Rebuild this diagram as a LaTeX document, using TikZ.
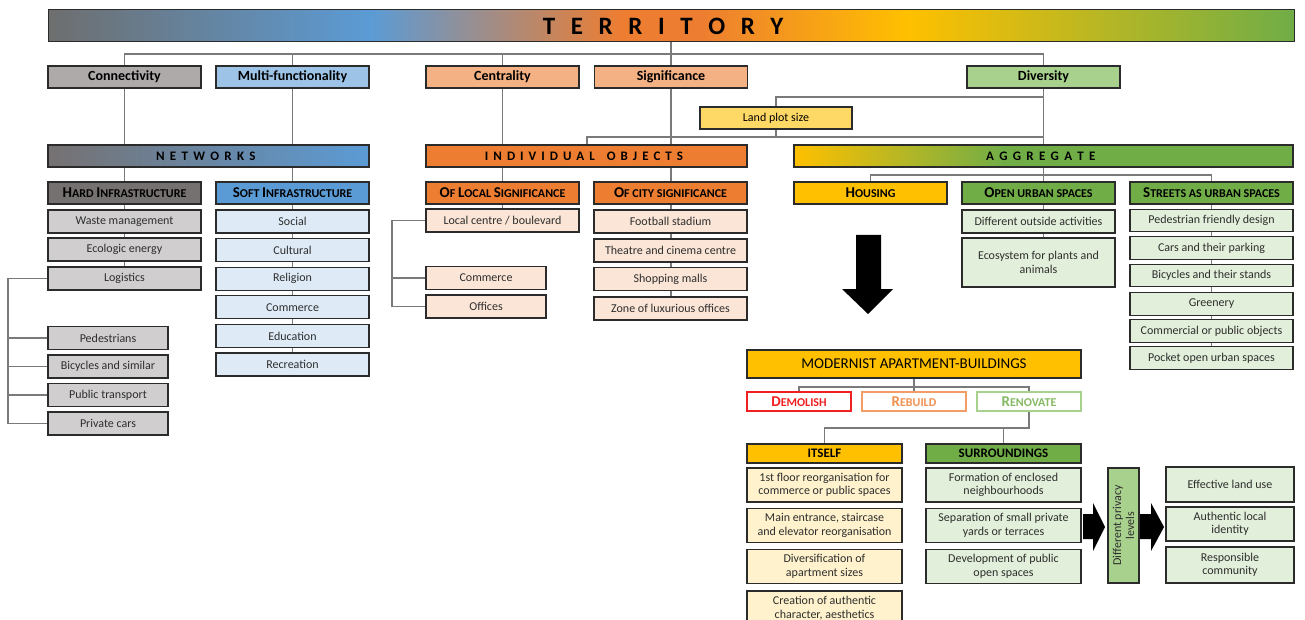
\documentclass[tikz,border=0pt]{standalone}
\usepackage{fontspec}
\setmainfont{Carlito}
\usetikzlibrary{calc}

\definecolor{cGray}{HTML}{6E6E6E}
\definecolor{cGrayD}{HTML}{767171}
\definecolor{cGrayM}{HTML}{AEAAAA}
\definecolor{cGrayL}{HTML}{D0CECE}
\definecolor{cBlue}{HTML}{5B9BD5}
\definecolor{cBlueM}{HTML}{9DC3E6}
\definecolor{cBlueL}{HTML}{DEEBF7}
\definecolor{cOrange}{HTML}{ED7D31}
\definecolor{cOrangeM}{HTML}{F4B183}
\definecolor{cOrangeL}{HTML}{FBE5D6}
\definecolor{cYellow}{HTML}{FFC000}
\definecolor{cYellowM}{HTML}{FFD966}
\definecolor{cYellowL}{HTML}{FFF2CC}
\definecolor{cGreen}{HTML}{70AD47}
\definecolor{cGreenM}{HTML}{A9D18E}
\definecolor{cGreenL}{HTML}{E2EFDA}
\definecolor{cRed}{HTML}{F02020}
\definecolor{cWire}{HTML}{7A7A7A}
\definecolor{cEdge}{HTML}{2B2B2B}

% letter-spaced capitals (gap after every letter, as in word processors)
\def\lsrest#1{\ifx#1\relax\else#1\kern\lsgap\relax\expandafter\lsrest\fi}
\newcommand\lspaced[2][5.3pt]{\def\lsgap{#1}\lsrest#2\relax}
% synthetic small capitals: first letter large, rest smaller
\newcommand\capsc[2]{{\fontsize{15}{15}\selectfont#1}{\fontsize{12}{12}\selectfont#2}}

\pgfdeclarelayer{wires}
\pgfdeclarelayer{shades}
\pgfsetlayers{wires,shades,main}

\tikzset{
  box/.style={draw=cEdge, line width=1.3pt, rectangle, inner sep=0pt, align=center, minimum height=22pt},
  lvtwo/.style={box, minimum width=153pt, font=\bfseries\fontsize{14}{16}\selectfont},
  bar/.style={box, line width=1.1pt, font=\bfseries\fontsize{13}{15}\selectfont},
  head/.style={box, minimum width=153pt, font=\bfseries\fontsize{12}{14}\selectfont},
  item/.style={box, minimum width=153pt, minimum height=23pt, text=black!82, font=\fontsize{12}{13.5}\selectfont},
  tall/.style={item, minimum width=155pt, minimum height=34pt},
  choice/.style={box, fill=white, line width=1.2pt, minimum width=104pt, minimum height=19pt, font=\bfseries\fontsize{12}{14}\selectfont},
  wire/.style={draw=cWire, line width=1.1pt},
  blockarrow/.style={fill=black},
}

\begin{document}
\begin{tikzpicture}[x=1pt,y=-1pt]
\clip (0,0) rectangle (1305,620);

% ---------- top level ----------
\node[box, minimum width=1246pt, minimum height=32pt, line width=1pt,
      font=\bfseries\fontsize{25}{25}\selectfont] (terr) at (671,26) {\lspaced[15.6pt]{TERRITORY}};

% ---------- criteria ----------
\node[lvtwo, fill=cGrayM]   (conn)  at (124.5,77) {Connectivity};
\node[lvtwo, fill=cBlueM]   (multi) at (292.5,77) {Multi-functionality};
\node[lvtwo, fill=cOrangeM] (cent)  at (502.5,77) {Centrality};
\node[lvtwo, fill=cOrangeM] (sign)  at (671,77)   {Significance};
\node[lvtwo, fill=cGreenM]  (div)   at (1043.5,77) {Diversity};
\node[box, fill=cYellowM, minimum width=152pt, font=\fontsize{12}{14}\selectfont] (plot) at (776,118) {Land plot size};

% ---------- groups ----------
\node[bar, minimum width=321pt] (netw) at (208.5,156) {\lspaced{NETWORKS}};
\node[bar, minimum width=321pt, fill=cOrange] (indiv) at (586.5,156) {\lspaced[5pt]{INDIVIDUAL}\hspace{7pt}\lspaced[5pt]{OBJECTS}};
\node[bar, minimum width=499pt] (aggr) at (1043.5,156) {\lspaced{AGGREGATE}};

% ---------- sub-groups ----------
\node[head, fill=cGrayD]  (hard)  at (124.5,193) {\capsc{H}{ARD} \capsc{I}{NFRASTRUCTURE}};
\node[head, fill=cBlue]   (soft)  at (292.5,193) {\capsc{S}{OFT} \capsc{I}{NFRASTRUCTURE}};
\node[head, fill=cOrange] (locs)  at (502.5,193) {\capsc{O}{F} \capsc{L}{OCAL} \capsc{S}{IGNIFICANCE}};
\node[head, fill=cOrange] (citys) at (670.5,193) {\capsc{O}{F CITY SIGNIFICANCE}};
\node[head, fill=cYellow] (hous)  at (870.5,193) {\capsc{H}{OUSING}};
\node[head, fill=cGreen]  (open)  at (1038.5,193) {\capsc{O}{PEN URBAN SPACES}};
\node[head, fill=cGreen, minimum width=163pt] (strt) at (1211.5,193) {\capsc{S}{TREETS AS URBAN SPACES}};

% ---------- hard infrastructure ----------
\node[item, fill=cGrayL] (waste) at (124.5,221.5) {Waste management};
\node[item, fill=cGrayL] (ecol)  at (124.5,249.5) {Ecologic energy};
\node[item, fill=cGrayL] (logi)  at (124.5,278.5) {Logistics};
\node[item, fill=cGrayL, minimum width=120pt] (peds)  at (108,338)   {Pedestrians};
\node[item, fill=cGrayL, minimum width=120pt] (bics)  at (108,366.5) {Bicycles and similar};
\node[item, fill=cGrayL, minimum width=120pt] (pubt)  at (108,395)   {Public transport};
\node[item, fill=cGrayL, minimum width=120pt] (pcars) at (108,423.5) {Private cars};

% ---------- soft infrastructure ----------
\node[item, fill=cBlueL] (social) at (292.5,221.5) {Social};
\node[item, fill=cBlueL] (cult)   at (292.5,250.1) {Cultural};
\node[item, fill=cBlueL] (relig)  at (292.5,278.7) {Religion};
\node[item, fill=cBlueL] (scomm)  at (292.5,307.3) {Commerce};
\node[item, fill=cBlueL] (educ)   at (292.5,335.9) {Education};
\node[item, fill=cBlueL] (recr)   at (292.5,364.5) {Recreation};

% ---------- individual objects ----------
\node[item, fill=cOrangeL] (locc) at (502.5,220.5) {Local centre / boulevard};
\node[item, fill=cOrangeL, minimum width=120pt] (lcom) at (486,278)   {Commerce};
\node[item, fill=cOrangeL, minimum width=120pt] (loff) at (486,306.5) {Offices};
\node[item, fill=cOrangeL] (foot)  at (670.5,221.5) {Football stadium};
\node[item, fill=cOrangeL] (theat) at (670.5,250.5) {Theatre and cinema centre};
\node[item, fill=cOrangeL] (shop)  at (670.5,279)   {Shopping malls};
\node[item, fill=cOrangeL] (zone)  at (670.5,308.5) {Zone of luxurious offices};

% ---------- aggregate ----------
\node[item, fill=cGreenL] (diff) at (1038.5,221.5) {Different outside activities};
\node[item, fill=cGreenL, minimum height=49pt] (eco) at (1038.5,262.5) {Ecosystem for plants and\\animals};
\node[item, fill=cGreenL, minimum width=163pt, minimum height=22.5pt] (sped)  at (1211.5,220.5) {Pedestrian friendly design};
\node[item, fill=cGreenL, minimum width=163pt, minimum height=22.5pt] (scars) at (1211.5,248)   {Cars and their parking};
\node[item, fill=cGreenL, minimum width=163pt, minimum height=22.5pt] (sbik)  at (1211.5,275.5) {Bicycles and their stands};
\node[item, fill=cGreenL, minimum width=163pt, minimum height=22.5pt] (grn)   at (1211.5,304)   {Greenery};
\node[item, fill=cGreenL, minimum width=163pt, minimum height=22.5pt] (scom)  at (1211.5,331)   {Commercial or public objects};
\node[item, fill=cGreenL, minimum width=163pt, minimum height=22.5pt] (pock)  at (1211.5,358)   {Pocket open urban spaces};

% ---------- modernist apartment buildings ----------
\node[box, fill=cYellow, minimum width=334pt, minimum height=28pt, font=\fontsize{15}{17}\selectfont] (mod) at (914,364) {MODERNIST APARTMENT-BUILDINGS};
\node[choice, draw=cRed, text=cRed] (demo) at (799,401.5) {\capsc{D}{EMOLISH}};
\node[choice, draw=cOrange!75!white, text=cOrange!85!white] (rebu) at (914,401.5) {\capsc{R}{EBUILD}};
\node[choice, draw=cGreenM, text=cGreen!85!white] (reno) at (1029,401.5) {\capsc{R}{ENOVATE}};

\node[box, fill=cYellow, minimum width=155pt, minimum height=19pt, font=\bfseries\fontsize{13}{15}\selectfont] (itself) at (824.5,453.5) {ITSELF};
\node[box, fill=cGreen,  minimum width=155pt, minimum height=19pt, font=\bfseries\fontsize{13}{15}\selectfont] (surr)   at (1003.5,453.5) {SURROUNDINGS};

\node[tall, fill=cYellowL] (it1) at (824.5,485)   {1st floor reorganisation for\\commerce or public spaces};
\node[tall, fill=cYellowL] (it2) at (824.5,525.5) {Main entrance, staircase\\and elevator reorganisation};
\node[tall, fill=cYellowL] (it3) at (824.5,566.5) {Diversification of\\apartment sizes};
\node[tall, fill=cYellowL] (it4) at (824.5,608)   {Creation of authentic\\character, aesthetics};

\node[tall, fill=cGreenL] (su1) at (1003.5,485)   {Formation of enclosed\\neighbourhoods};
\node[tall, fill=cGreenL] (su2) at (1003.5,525.5) {Separation of small private\\yards or terraces};
\node[tall, fill=cGreenL] (su3) at (1003.5,566.5) {Development of public\\open spaces};

\node[box, fill=cGreenM, rotate=90, minimum width=115pt, minimum height=31pt, text=black!82,
      font=\fontsize{12}{13}\selectfont] (privacy) at (1123.5,525.5) {Different privacy\\levels};

\node[item, fill=cGreenL, minimum width=128pt, minimum height=35pt] (eff)  at (1230,484.5) {Effective land use};
\node[item, fill=cGreenL, minimum width=128pt, minimum height=34pt] (auth) at (1230,524)   {Authentic local\\identity};
\node[item, fill=cGreenL, minimum width=128pt, minimum height=36pt] (resp) at (1230,565)   {Responsible\\community};

% ---------- block arrows ----------
\fill[blockarrow] (856,235) -- (881,235) -- (881,289) -- (893,289) -- (868,314) -- (842,289) -- (856,289) -- cycle;
\fill[blockarrow] (1083,514) -- (1093,514) -- (1093,503) -- (1105,527) -- (1093,551) -- (1093,539) -- (1083,539) -- cycle;
\fill[blockarrow] (1140,514) -- (1151,514) -- (1151,503) -- (1164,527) -- (1151,551) -- (1151,539) -- (1140,539) -- cycle;

% ---------- gradient fills of the wide bars ----------
\begin{pgfonlayer}{shades}
  \fill[left color=cGray,   right color=cBlue]   (48,10)  rectangle (370.6,42);
  \fill[left color=cBlue,   right color=cOrange] (370,10) rectangle (620.6,42);
  \fill[cOrange]                                 (620,10) rectangle (700.6,42);
  \fill[left color=cOrange, right color=cYellow] (700,10) rectangle (907.6,42);
  \fill[left color=cYellow, right color=cGreen]  (907,10) rectangle (1294,42);
  \fill[left color=cGrayD,  right color=cBlue]   (48,145) rectangle (369,167);
  \fill[left color=cYellow, right color=cGreen]  (794,145) rectangle (1005.6,167);
  \fill[cGreen]                                  (1005,145) rectangle (1293,167);
\end{pgfonlayer}

% ---------- connectors ----------
\begin{pgfonlayer}{wires}
  \coordinate (hub) at (671,54);
  \draw[wire] (conn) |- (hub) -| (div);
  \draw[wire] (multi) -- (multi |- hub);
  \draw[wire] (cent) -- (cent |- hub);
  \draw[wire] (terr) -- (sign);

  \draw[wire] (conn) -- (logi);
  \draw[wire] (multi) -- (recr);
  \draw[wire] (cent) -- (locc);
  \draw[wire] (sign) -- (sign |- zone);

  \draw[wire] (div) -- (aggr);
  \coordinate (plotbus) at (776,97);
  \draw[wire] (div |- plotbus) -| (plot);
  \coordinate (indbus) at (587,137);
  \draw[wire] (plot) |- (indbus) -- (indbus |- indiv.north);
  \draw[wire] (plot |- indbus) -- (div |- indbus);

  \coordinate (aggbus) at (1043.5,175);
  \draw[wire] (hous) |- (aggbus) -| (strt);
  \draw[wire] (aggr) -- (aggr |- eco);
  \draw[wire] (strt) -- (pock);

  \coordinate (hbr) at (8,0);
  \draw[wire] (logi.west) -| (hbr |- pcars) -- (pcars.west);
  \foreach \n in {peds,bics,pubt} \draw[wire] (\n.west) -- (hbr |- \n);

  \coordinate (lbr) at (392,0);
  \draw[wire] (locc.west) -| (lbr |- loff) -- (loff.west);
  \draw[wire] (lcom.west) -- (lbr |- lcom);

  \draw[wire] (mod) -- (rebu);
  \coordinate (modbus) at (914,387);
  \draw[wire] (demo) |- (modbus) -| (reno);
  \coordinate (renbus) at (1029,428);
  \draw[wire] (reno) -- (renbus) -| (itself);
  \draw[wire] (surr) -- (surr |- renbus);
\end{pgfonlayer}
\end{tikzpicture}
\end{document}
